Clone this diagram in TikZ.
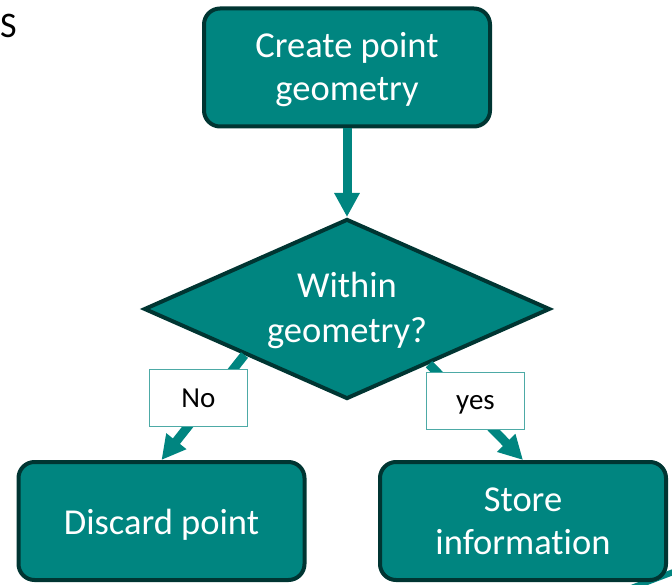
\documentclass[tikz,border=0pt]{standalone}
\usepackage{fontspec}
\setmainfont{Carlito}[Ligatures={NoCommon,NoContextual}]
\usetikzlibrary{arrows.meta,shapes.geometric,calc}
\definecolor{tealfill}{HTML}{008580}
\definecolor{tealdark}{HTML}{003532}
\definecolor{teallight}{HTML}{4DAAA6}
\newcommand{\celltext}[1]{\begin{tabular}[t]{@{}c@{}}#1\end{tabular}}
\tikzset{
  procbox/.style={draw=tealdark, fill=tealfill, line width=4pt, rounded corners=16pt,
    minimum width=286pt, minimum height=118pt, inner sep=0pt, text=white,
    font=\fontsize{36.5}{43}\selectfont},
  decbox/.style={diamond, draw=tealdark, fill=tealfill, line width=4pt, line join=miter,
    minimum width=406pt, minimum height=180pt, inner sep=0pt, aspect=2.25, text=white,
    font=\fontsize{36.5}{45}\selectfont},
  flowarrow/.style={draw=tealfill, line width=9pt, -{Triangle[width=24pt,length=24pt]}},
  lblbox/.style={draw=teallight, fill=white, line width=1.3pt, minimum width=98pt,
    minimum height=57pt, inner sep=0pt, text=black, font=\fontsize{29}{34}\selectfont},
  stray/.style={draw=tealfill, line width=6pt}
}
\begin{document}
\begin{tikzpicture}[x=1pt,y=-1pt]
\useasboundingbox (0,0) rectangle (672,585);
\node[anchor=base west, inner sep=0pt, font=\fontsize{36}{45}\selectfont] (s) at (0,38) {S};
\coordinate (offA) at (626,590);
\coordinate (offB) at (676,571);
\draw[stray] (offA) -- (offB);
\node[procbox, text height=0pt, text depth=19pt] (create) at (347,67.5) {\celltext{Create point\\geometry}};
\node[decbox, text height=0pt, text depth=23pt] (within) at (347,309) {\celltext{Within\\geometry?}};
\node[procbox, text height=26pt, text depth=0pt] (discard) at (161.5,521) {\celltext{Discard point}};
\node[procbox, text height=0pt, text depth=18.6pt] (store) at (523,521) {\celltext{Store\\informat\kern0pt ion}};
\draw[flowarrow] (create.south) -- (within.north);
\draw[flowarrow] (within.south west) -- (discard.north);
\draw[flowarrow] ($(within.south east)!0.2!(within.south)$) -- (store.north);
\node[lblbox] (no) at (198.5,398) {No};
\node[lblbox, text height=16pt, text depth=0pt] (yes) at (475.5,401) {yes};
\end{tikzpicture}
\end{document}
